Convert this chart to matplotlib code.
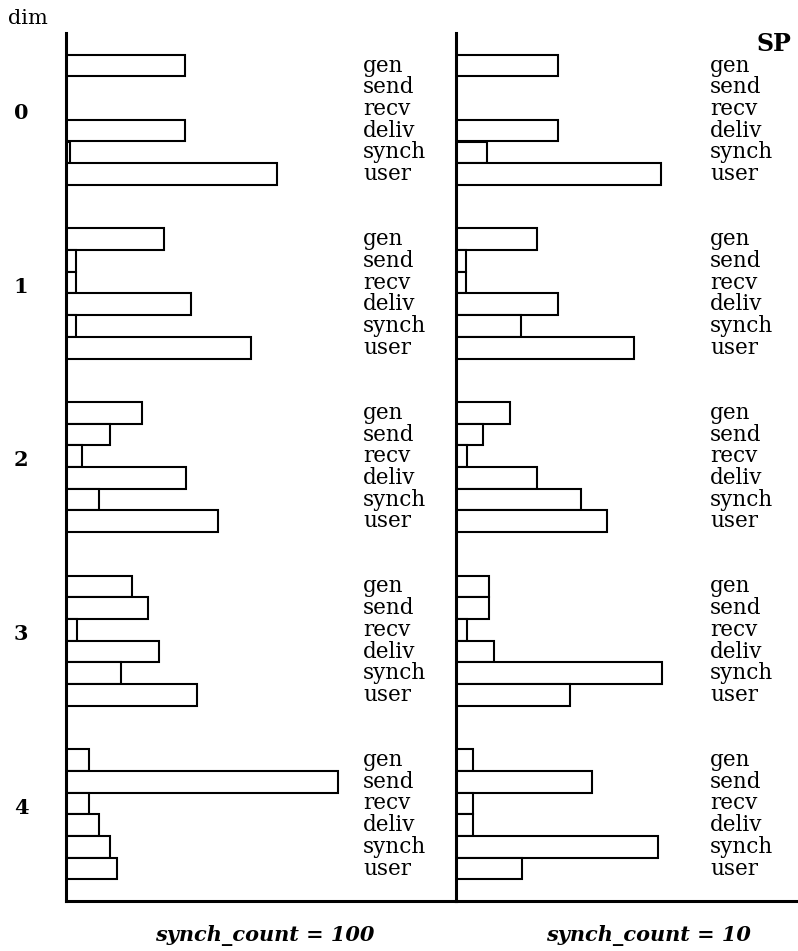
import numpy as np
import matplotlib
matplotlib.use('Agg')
from matplotlib import pyplot as plt

# bar lengths (arbitrary units)
labels = ['gen', 'send', 'recv', 'deliv', 'synch', 'user']
dims = [0, 1, 2, 3, 4]
sc100 = [[119, 0, 0, 119, 4, 211],
         [98, 10, 10, 125, 10, 185],
         [76, 44, 16, 120, 33, 152],
         [66, 82, 11, 93, 55, 131],
         [23, 272, 23, 33, 44, 51]]
sc10 = [[102, 0, 0, 102, 31, 205],
        [81, 10, 10, 102, 65, 178],
        [54, 27, 11, 81, 125, 151],
        [33, 33, 11, 38, 206, 114],
        [17, 136, 17, 17, 202, 66]]
titles = ['synch_count = 100', 'synch_count = 10']

plt.rcParams['font.family'] = ['DejaVu Serif']
W, H = 798, 951
fig = plt.figure(figsize=(W / 100, H / 100), dpi=100)

ax1 = fig.add_axes([66 / W, 50 / H, 390 / W, 868 / H])
ax2 = fig.add_axes([456 / W, 50 / H, 342 / W, 868 / H])

def draw(ax, data, xmax, title, tx, lx):
    for g in range(len(dims)):
        ys = [1 + g * 8 + i + 0.5 for i in range(len(labels))]
        ax.barh(ys, data[g], height=1.0, left=0, color='white',
                edgecolor='black', linewidth=1.5)
        for i, y in enumerate(ys):
            ax.text(lx, y + 0.28, labels[i], fontsize=15.5, va='baseline',
                    ha='left', clip_on=False)
    ax.set_xlim(0, xmax)
    ax.set_ylim(40, 0)
    ax.set_xticks([])
    ax.set_yticks([])
    ax.spines['top'].set_visible(False)
    ax.spines['right'].set_visible(False)
    ax.spines['left'].set_linewidth(2.2)
    ax.spines['bottom'].set_linewidth(2.2)
    ax.patch.set_alpha(0)
    fig.text(tx / W, 1 - 935 / H, title, fontsize=15, fontweight='bold',
             fontstyle='italic', ha='center', va='center')

draw(ax1, sc100, 390, titles[0], 265, 297)
draw(ax2, sc10, 342, titles[1], 648, 254)

for g, d in enumerate(dims):
    ax1.text(-45, 4 + g * 8 - 0.3, str(d), fontsize=15, fontweight='bold',
             ha='center', va='center', clip_on=False)

fig.text(8 / W, 1 - 19 / H, 'dim', fontsize=15, ha='left', va='center')
fig.text(774 / W, 1 - 44 / H, 'SP', fontsize=17, fontweight='bold',
         ha='center', va='center')

plt.savefig('out.png', dpi=100)
